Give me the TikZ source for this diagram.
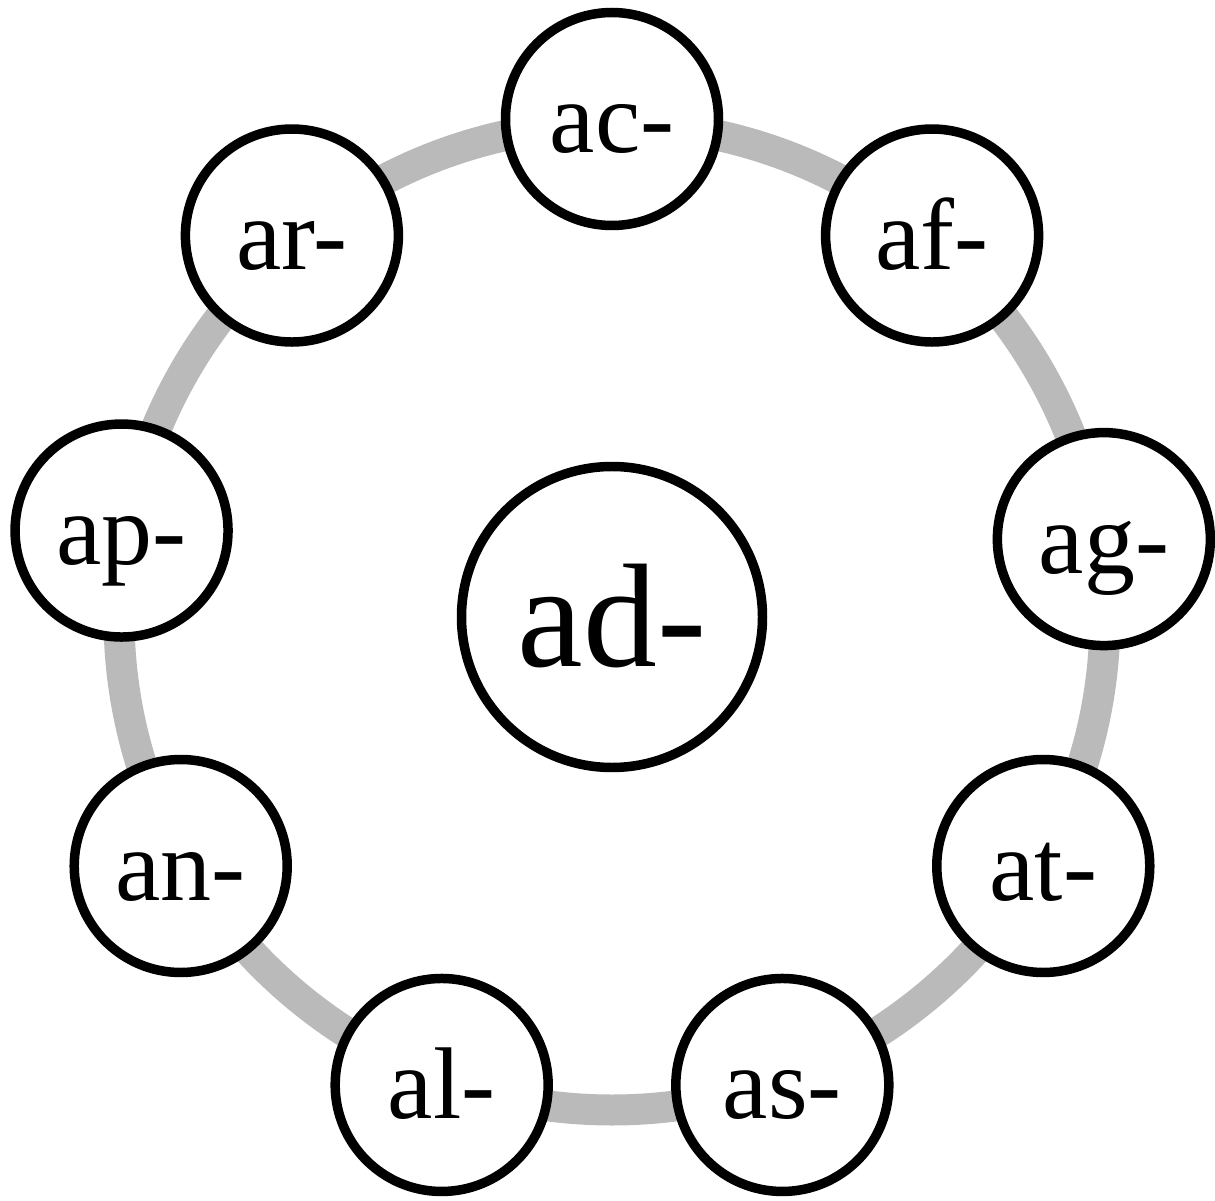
\documentclass[tikz,border=0pt]{standalone}
\usepackage{fontspec}
\setmainfont{Liberation Serif}
\usetikzlibrary{calc}
\tikzset{
  rootnode/.style={draw, circle, fill=white, line width=2.7pt, minimum size=3.01cm,
    text height=0.98cm, text depth=0pt, font=\fontsize{42}{42}\selectfont},
  affix/.style={draw, circle, fill=white, line width=2.7pt, minimum size=2.13cm,
    text height=0.68cm, text depth=0pt, font=\fontsize{29}{29}\selectfont},
  ring/.style={draw=black!27, line width=0.31cm}
}
\begin{document}
\begin{tikzpicture}
\useasboundingbox (0,0) rectangle (12.15,12);
\node[rootnode] (ad) at (6.12,5.83) {ad-};
\draw[ring] (ad.center) circle (4.93);
\foreach \name/\ang in {ac/90, af/50, ag/9, at/-30, as/-70, al/-110, an/-150, ap/170, ar/130}
  \node[affix] (\name) at ($(ad.center)+(\ang:4.98)$) {\name-};
\end{tikzpicture}
\end{document}
